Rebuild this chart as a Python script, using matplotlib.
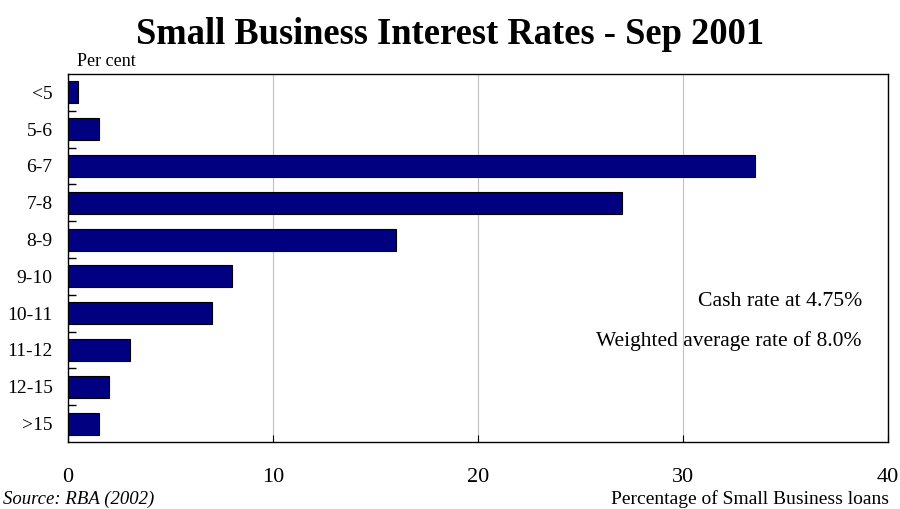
import matplotlib
matplotlib.use("Agg")
import matplotlib.pyplot as plt
import numpy as np

categories = ["<5", "5-6", "6-7", "7-8", "8-9", "9-10", "10-11", "11-12", "12-15", ">15"]
values = [0.5, 1.5, 33.5, 27.0, 16.0, 8.0, 7.0, 3.0, 2.0, 1.5]
xticks = [0, 10, 20, 30, 40]

plt.rcParams['font.family'] = ['Liberation Serif', 'DejaVu Serif']

fig = plt.figure(figsize=(9, 5.09), dpi=100)
ax = fig.add_axes([68/900, 67/509, 820/900, 368/509])

y = np.arange(len(categories))
ax.barh(y, values, height=0.6, color="#000080", edgecolor="black", linewidth=0.8, zorder=3)
ax.set_ylim(len(categories) - 0.5, -0.5)
ax.set_xlim(0, 40)

ax.set_yticks(y)
ax.set_yticklabels(categories, fontsize=14)
ax.tick_params(axis='y', which='major', length=0, pad=11)
ax.set_yticks(np.arange(0.5, len(categories) - 1, 1), minor=True)
ax.tick_params(axis='y', which='minor', direction='in', length=6, width=1)

ax.set_xticks(xticks)
ax.set_xticklabels([str(t) for t in xticks], fontsize=16)
ax.tick_params(axis='x', direction='in', length=5, pad=19)

ax.grid(axis='x', color='#c0c0c0', linewidth=0.8, zorder=0)
for s in ax.spines.values():
    s.set_linewidth(1.0)
    s.set_color('black')

fig.text(0.5, 1 - 35/509, "Small Business Interest Rates - Sep 2001", ha='center', va='center',
         fontsize=26.3, fontweight='bold')
fig.text(77/900, 1 - 62/509, "Per cent", ha='left', va='center', fontsize=13)
xr = (862 - 68) / 820
ax.text(xr, 1 - (301-74)/368, "Cash rate at 4.75%", transform=ax.transAxes,
        ha='right', va='center', fontsize=15.7)
ax.text(xr, 1 - (341-74)/368, "Weighted average rate of 8.0%", transform=ax.transAxes,
        ha='right', va='center', fontsize=15.5)
fig.text(3/900, 1 - 499/509, "Source: RBA (2002)", ha='left', va='center', fontsize=13.5, style='italic')
fig.text(889/900, 1 - 499/509, "Percentage of Small Business loans", ha='right', va='center', fontsize=14)

fig.savefig("out.png", dpi=100)
